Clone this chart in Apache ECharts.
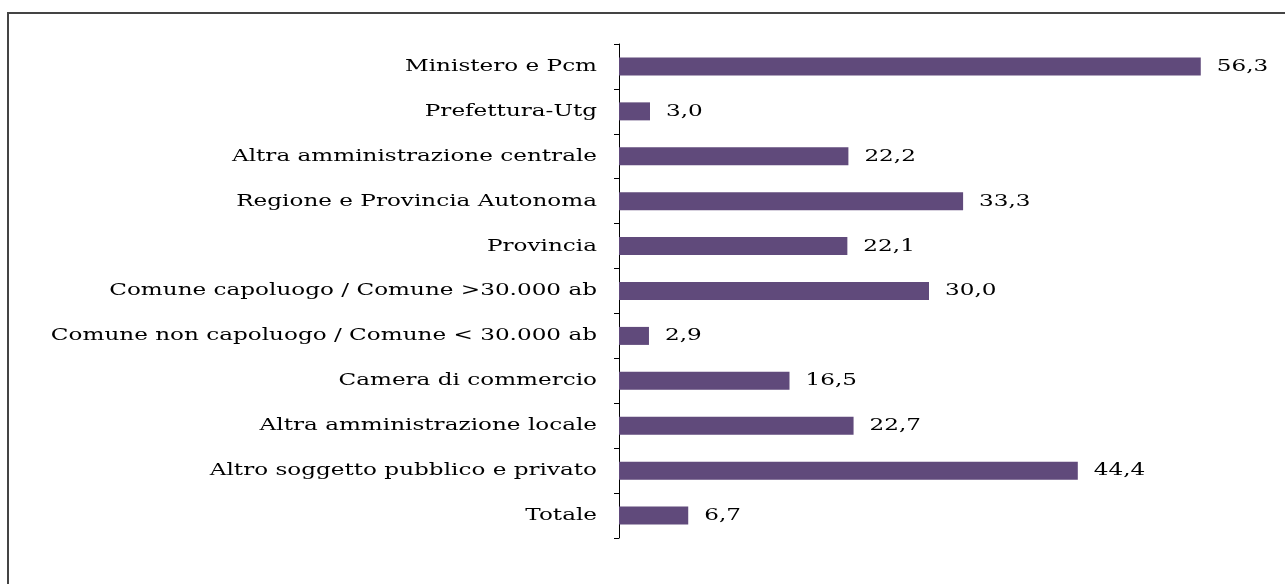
<!DOCTYPE html>
<html>
<head>
<meta charset="utf-8">
<script src="https://cdn.jsdelivr.net/npm/echarts@6/dist/echarts.min.js"></script>
<style>html,body{margin:0;padding:0;background:#fff;}#c{width:1285px;height:584px;}</style>
</head>
<body>
<div id="c"></div>
<script>
var categories = [
  "Ministero e Pcm",
  "Prefettura-Utg",
  "Altra amministrazione centrale",
  "Regione e Provincia Autonoma",
  "Provincia",
  "Comune capoluogo / Comune >30.000 ab",
  "Comune non capoluogo / Comune < 30.000 ab",
  "Camera di commercio",
  "Altra amministrazione locale",
  "Altro soggetto pubblico e privato",
  "Totale"
];
var values = [56.3, 3.0, 22.2, 33.3, 22.1, 30.0, 2.9, 16.5, 22.7, 44.4, 6.7];

var chart = echarts.init(document.getElementById('c'));
var fontFam = '"DejaVu Serif", "Liberation Serif", serif';
var font = '17px ' + fontFam;
var stretch = 1.36;
chart.setOption({
  animation: false,
  backgroundColor: '#fff',
  grid: {left: 619, right: 46, top: 44, height: 494, containLabel: false},
  xAxis: {type: 'value', min: 0, max: 60, show: false},
  yAxis: {
    type: 'category',
    inverse: true,
    data: categories,
    axisLine: {show: true, lineStyle: {color: '#000', width: 1}},
    axisTick: {show: true, length: 5, lineStyle: {color: '#000'}},
    axisLabel: {show: false}
  },
  series: [{
    type: 'bar',
    data: values,
    barWidth: 18,
    itemStyle: {color: '#604a7b'},
    label: {show: false}
  }]
});

function fmt(v){ return v.toFixed(1).replace('.', ','); }
var els = [{
  type: 'rect',
  shape: {x: 8, y: 13, width: 1400, height: 700},
  style: {fill: 'none', stroke: '#444', lineWidth: 2},
  silent: true
}];
var x0 = chart.convertToPixel({xAxisIndex: 0}, 0);
categories.forEach(function(c, i){
  var y = chart.convertToPixel({yAxisIndex: 0}, c);
  els.push({
    type: 'text', x: x0 - 22, y: y, scaleX: stretch,
    style: {text: c, font: font, fill: '#000', textAlign: 'right', textVerticalAlign: 'middle'},
    silent: true
  });
  var xe = chart.convertToPixel({xAxisIndex: 0}, values[i]);
  els.push({
    type: 'text', x: xe + 16, y: y, scaleX: stretch,
    style: {text: fmt(values[i]), font: font, fill: '#000', textAlign: 'left', textVerticalAlign: 'middle'},
    silent: true
  });
});
chart.setOption({graphic: els});
</script>
</body>
</html>
